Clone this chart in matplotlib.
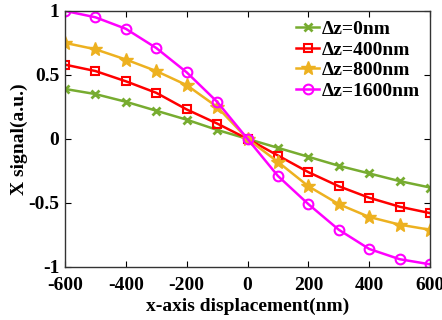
import matplotlib
matplotlib.use("Agg")
import matplotlib.pyplot as plt

# data
x_nm = [-600, -500, -400, -300, -200, -100, 0, 100, 200, 300, 400, 500, 600]
dz0 = [0.39, 0.35, 0.29, 0.22, 0.15, 0.07, 0, -0.07, -0.14, -0.21, -0.27, -0.33, -0.38]
dz400 = [0.58, 0.53, 0.45, 0.36, 0.23, 0.12, 0, -0.13, -0.26, -0.37, -0.46, -0.53, -0.58]
dz800 = [0.75, 0.70, 0.62, 0.53, 0.42, 0.25, 0, -0.18, -0.37, -0.51, -0.61, -0.67, -0.71]
dz1600 = [1.0, 0.95, 0.86, 0.71, 0.52, 0.29, 0, -0.29, -0.51, -0.71, -0.86, -0.94, -0.98]
labels = ["Δz=0nm", "Δz=400nm", "Δz=800nm", "Δz=1600nm"]

plt.rcParams['font.family'] = ['Liberation Serif', 'DejaVu Serif']
plt.rcParams['font.weight'] = 'bold'
plt.rcParams['axes.unicode_minus'] = False

fig = plt.figure(figsize=(4.42, 3.2), dpi=100)
ax = fig.add_axes([0.147, 0.166, 0.826, 0.80])

ax.plot(x_nm, dz0, color='#77AC30', marker='x', ms=6, mew=2, lw=1.8, label=labels[0])
ax.plot(x_nm, dz400, color='#FF0000', marker='s', ms=6, mfc='none', mew=1.5, lw=1.8, label=labels[1])
ax.plot(x_nm, dz800, color='#EDB120', marker='*', ms=10, lw=1.8, label=labels[2])
ax.plot(x_nm, dz1600, color='#FF00FF', marker='o', ms=7, mfc='none', mew=1.5, lw=1.8, label=labels[3])

ax.set_xlim(-600, 600)
ax.set_ylim(-1, 1)
ax.set_xticks([-600, -400, -200, 0, 200, 400, 600])
ax.set_yticks([-1, -0.5, 0, 0.5, 1])
ax.set_yticklabels(['-1', '-0.5', '0', '0.5', '1'])
ax.tick_params(direction='in', top=True, right=True, labelsize=14, length=4)
ax.tick_params(axis='x', pad=7)
ax.tick_params(axis='y', pad=4)
for s in ax.spines.values():
    s.set_linewidth(1.0)
    s.set_color('#333333')

ax.set_xlabel('x-axis displacement(nm)', fontsize=14, fontweight='bold', labelpad=3)
ax.set_ylabel('X signal(a.u.)', fontsize=14, fontweight='bold', labelpad=0)

ax.legend(loc='upper right', frameon=False, fontsize=14, handlelength=1.2,
          handletextpad=0.15, labelspacing=0.15, borderaxespad=0.1)

fig.savefig('out.png', dpi=100)
